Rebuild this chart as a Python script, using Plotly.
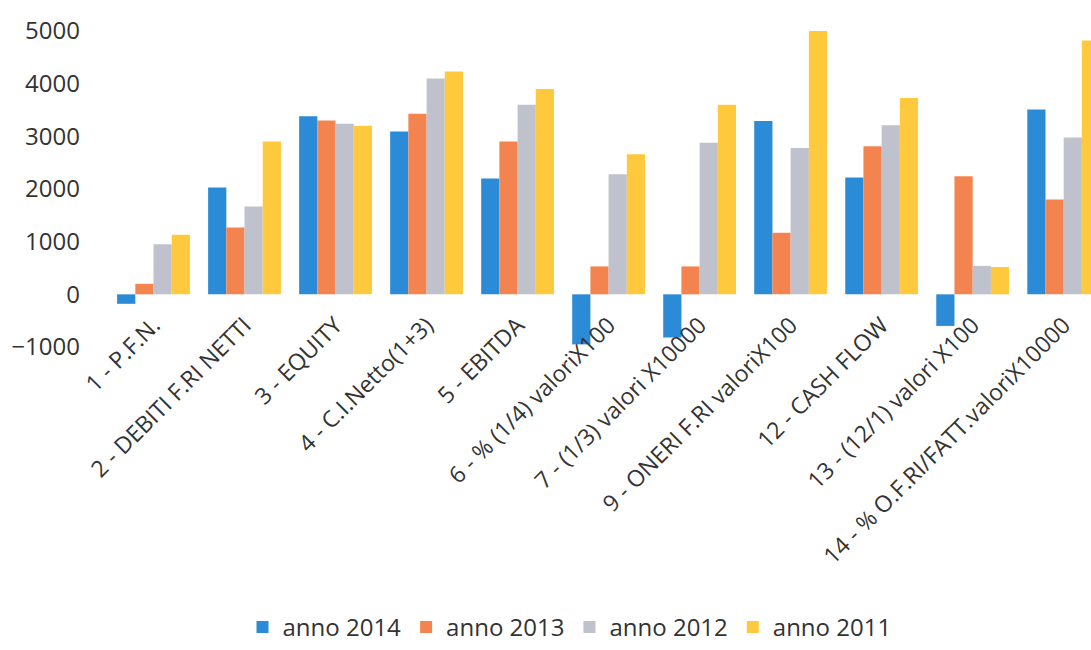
import plotly.graph_objects as go

categories = [
    "1 - P.F.N.",
    "2 - DEBITI F.RI NETTI",
    "3 - EQUITY",
    "4 - C.I.Netto(1+3)",
    "5 - EBITDA",
    "6 - % (1/4) valoriX100",
    "7 - (1/3) valori X10000",
    "9 - ONERI F.RI valoriX100",
    "12 - CASH FLOW",
    "13 - (12/1) valori X100",
    "14 - % O.F.RI/FATT.valoriX10000",
]
anno_2014 = [-180, 2030, 3380, 3090, 2200, -950, -820, 3290, 2220, -600, 3510]
anno_2013 = [200, 1270, 3300, 3430, 2900, 530, 530, 1170, 2810, 2240, 1800]
anno_2012 = [950, 1670, 3240, 4100, 3600, 2280, 2880, 2780, 3210, 540, 2980]
anno_2011 = [1130, 2900, 3200, 4230, 3900, 2660, 3600, 5000, 3730, 520, 4820]

series = [
    ("anno 2014", anno_2014, "#2B8BD6"),
    ("anno 2013", anno_2013, "#F4844F"),
    ("anno 2012", anno_2012, "#BFC1CC"),
    ("anno 2011", anno_2011, "#FFC93E"),
]

fig = go.Figure()
for name, vals, col in series:
    fig.add_trace(go.Bar(
        x=categories, y=vals, name=name,
        marker=dict(color=col, line=dict(width=0)),
    ))

W, H = 1091, 650
t, b, l, r = 31, 303, 108, 0
txt = "#333333"
fig.update_layout(
    width=W, height=H,
    margin=dict(t=t, b=b, l=l, r=r, autoexpand=False),
    paper_bgcolor="white", plot_bgcolor="white",
    barmode="group", bargap=0.2, bargroupgap=0,
    font=dict(family="Open Sans, sans-serif", color=txt),
    showlegend=True,
    legend=dict(
        orientation="h", xref="container", yref="container",
        x=0.522, xanchor="center", y=0.0, yanchor="bottom",
        font=dict(size=24, color=txt),
        itemwidth=30, traceorder="normal",
        tracegroupgap=0,
    ),
)
fig.update_xaxes(
    range=[-0.5, 10.3], tickangle=-45, showgrid=False, showline=False,
    zeroline=False, ticks="", anchor="free", position=1/6,
    tickfont=dict(size=23, color=txt), automargin=False,
    ticklabelstandoff=12,
)
fig.update_yaxes(
    range=[-1000, 5000], dtick=1000, showgrid=False, zeroline=False,
    showline=False, ticks="", tickfont=dict(size=24, color=txt),
    ticklabelstandoff=27, automargin=False,
)
fig.write_html("out.html")
